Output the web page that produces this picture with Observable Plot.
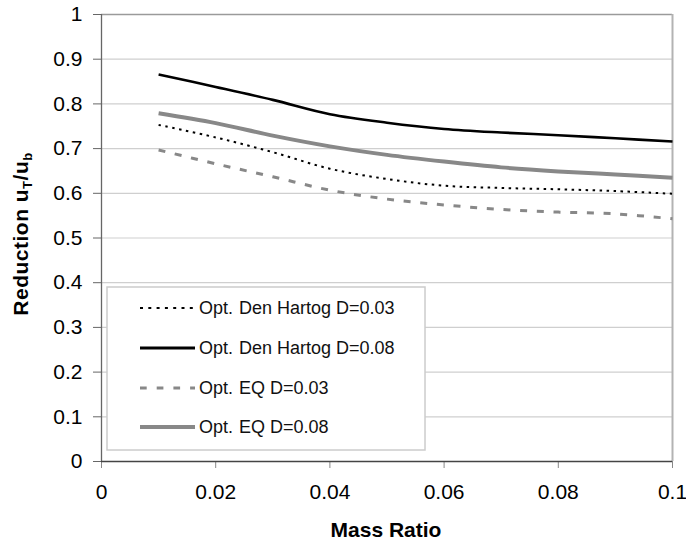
<!DOCTYPE html>
<html>
<head>
<meta charset="utf-8">
<script src="https://cdn.jsdelivr.net/npm/d3@7"></script>
<script src="https://cdn.jsdelivr.net/npm/@observablehq/plot@0.6"></script>
<style>
  html, body { margin: 0; padding: 0; background: #fff; }
  #chart { width: 686px; height: 542px; }
</style>
</head>
<body>
<div id="chart"></div>
<script>
const massRatio = [0.01, 0.02, 0.03, 0.04, 0.05, 0.06, 0.07, 0.08, 0.09, 0.1];
const dh003 = [0.753, 0.725, 0.692, 0.655, 0.632, 0.617, 0.612, 0.609, 0.605, 0.599];
const dh008 = [0.866, 0.838, 0.809, 0.777, 0.758, 0.744, 0.736, 0.730, 0.723, 0.716];
const eq003 = [0.697, 0.666, 0.637, 0.607, 0.587, 0.574, 0.564, 0.558, 0.554, 0.543];
const eq008 = [0.779, 0.757, 0.729, 0.705, 0.686, 0.671, 0.658, 0.649, 0.642, 0.635];
const seriesNames = ["Opt. Den Hartog D=0.03", "Opt. Den Hartog D=0.08", "Opt. EQ D=0.03", "Opt. EQ D=0.08"];
const xTicks = [0, 0.02, 0.04, 0.06, 0.08, 0.1];
const yTicks = [0, 0.1, 0.2, 0.3, 0.4, 0.5, 0.6, 0.7, 0.8, 0.9, 1];
const xTitle = "Mass Ratio";

const styles = [
  {stroke: "#000", strokeWidth: 2, strokeDasharray: "2.5,4.5"},
  {stroke: "#000", strokeWidth: 2.6, strokeDasharray: null},
  {stroke: "#888", strokeWidth: 3, strokeDasharray: "7,9.7"},
  {stroke: "#888", strokeWidth: 4, strokeDasharray: null}
];
const seriesValues = [dh003, dh008, eq003, eq008];
const table = seriesValues.map((vals, i) => massRatio.map((m, j) => ({x: m, y: vals[j], s: seriesNames[i]})));

const font = "'Liberation Sans', Arial, sans-serif";

const plot = Plot.plot({
  width: 686,
  height: 542,
  marginLeft: 101,
  marginRight: 14,
  marginTop: 14,
  marginBottom: 81,
  style: {fontFamily: font, fontSize: "21px", background: "#fff", color: "#000"},
  x: {domain: [0, 0.1], label: null},
  y: {domain: [0, 1], label: null},
  marks: [
    Plot.gridY(yTicks.filter(d => d > 0 && d < 1), {stroke: "#cfcfcf", strokeOpacity: 1, strokeWidth: 1.2}),
    Plot.ruleY([1], {stroke: "#9a9a9a", strokeWidth: 1.5}),
    Plot.ruleX([0.1], {stroke: "#b3b3b3", strokeWidth: 2}),
    Plot.axisY(yTicks, {tickSize: 8, tickPadding: 11, stroke: "#666", fontSize: 21, tickFormat: d => String(d), label: null}),
    Plot.axisX(xTicks, {tickSize: 7, tickPadding: 16, stroke: "#888", fontSize: 21, tickFormat: d => String(d), label: null}),
    Plot.ruleX([0], {stroke: "#666", strokeWidth: 1.3}),
    Plot.ruleY([0], {stroke: "#444", strokeWidth: 1.3}),
    ...table.map((rows, i) => Plot.line(rows, {
      x: "x", y: "y", curve: "catmull-rom",
      stroke: styles[i].stroke, strokeWidth: styles[i].strokeWidth,
      strokeDasharray: styles[i].strokeDasharray, strokeLinecap: "butt"
    }))
  ]
});

document.getElementById("chart").appendChild(plot);

const svg = d3.select(plot);

// x axis title
svg.append("text")
  .attr("x", 386).attr("y", 537)
  .attr("text-anchor", "middle")
  .attr("font-family", font)
  .attr("font-weight", "bold")
  .attr("font-size", 21)
  .text(xTitle);

// y axis title with subscripts
const yt = svg.append("text")
  .attr("transform", "translate(28,234) rotate(-90)")
  .attr("text-anchor", "middle")
  .attr("font-family", font)
  .attr("font-weight", "bold")
  .attr("font-size", 21)
  .attr("letter-spacing", "0.5px");
yt.append("tspan").text("Reduction u");
yt.append("tspan").attr("font-size", 13).attr("dy", 4).text("T");
yt.append("tspan").attr("dy", -4).text("/u");
yt.append("tspan").attr("font-size", 13).attr("dy", 4).text("b");

// legend
const lg = svg.append("g").attr("text-anchor", "start");
lg.append("rect")
  .attr("x", 107).attr("y", 287).attr("width", 318).attr("height", 163)
  .attr("fill", "#fff").attr("stroke", "#cccccc").attr("stroke-width", 1.5);
const rowY = [308, 348, 388, 427];
seriesNames.forEach((name, i) => {
  lg.append("line")
    .attr("x1", 140).attr("x2", 195).attr("y1", rowY[i]).attr("y2", rowY[i])
    .attr("stroke", styles[i].stroke)
    .attr("stroke-width", i === 1 ? 3 : styles[i].strokeWidth)
    .attr("stroke-dasharray", i === 0 ? "3,5.3" : (i === 2 ? "6.7,10" : null));
  const t = lg.append("text")
    .attr("x", 199).attr("y", rowY[i]).attr("dy", "0.35em")
    .attr("text-anchor", "start")
    .attr("font-family", font).attr("font-size", 18)
    .attr("fill", "#111");
  const parts = name.split("Opt. ");
  t.append("tspan").text("Opt.");
  t.append("tspan").attr("dx", 6).text(parts[1]);
});
</script>
</body>
</html>
